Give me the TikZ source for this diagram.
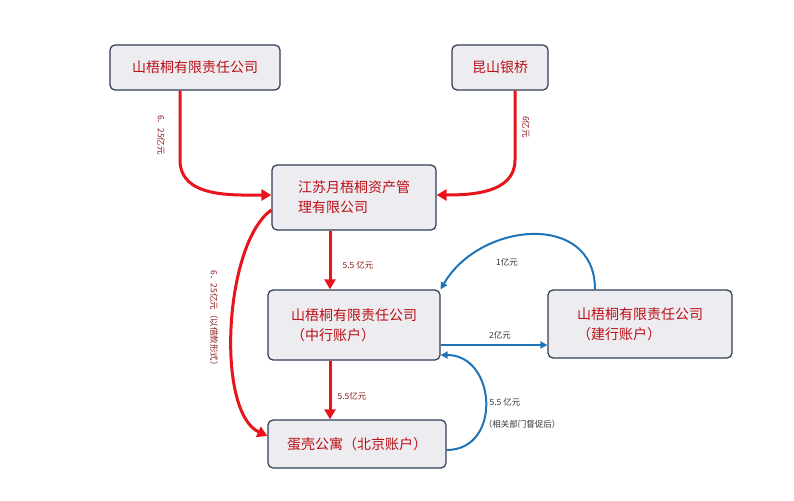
\documentclass[tikz,border=0pt]{standalone}
\usepackage{fontspec}
\setmainfont{Noto Sans CJK SC}
\usetikzlibrary{arrows.meta}
\definecolor{bx}{HTML}{EDEDF1}
\definecolor{bd}{HTML}{2F3B55}
\definecolor{rd}{HTML}{E8141C}
\definecolor{bl}{HTML}{1F74B8}
\definecolor{lt}{HTML}{8B1A1A}
\begin{document}
\begin{tikzpicture}[x=1pt,y=-1pt,
 box/.style={draw=bd,line width=1.2pt,fill=bx,rounded corners=5pt,font=\fontsize{14}{20}\selectfont,text=rd!80!black,align=left},
 ra/.style={draw=rd,line width=3pt,-{Triangle[length=10pt,width=11pt]}},
 ba/.style={draw=bl,line width=2pt,-{Triangle[length=7pt,width=7pt]}},
 lb/.style={font=\fontsize{8.5}{10}\selectfont,text=lt},
 lbb/.style={font=\fontsize{8.5}{10}\selectfont,text=black!80}]
\useasboundingbox (0,0) rectangle (794,500);
\node[box,minimum width=170pt,minimum height=45pt,align=center] (A) at (195,67.5) {山梧桐有限责任公司};
\node[box,minimum width=96pt,minimum height=45pt,align=center] (B) at (500,67.5) {昆山银桥};
\node[box,minimum width=164pt,minimum height=65pt] (C) at (354,197.5) {江苏月梧桐资产管\\理有限公司};
\node[box,minimum width=172pt,minimum height=70pt] (D) at (354,325) {山梧桐有限责任公司\\（中行账户）};
\node[box,minimum width=184pt,minimum height=68pt] (E) at (640,324) {山梧桐有限责任公司\\（建行账户）};
\node[box,minimum width=178pt,minimum height=48pt] (F) at (357,444) {蛋壳公寓（北京账户）};
\draw[ra] (A.south -| 180,0) -- (180,160) to[out=-90,in=180] (C.west |- 0,195);
\draw[ra] (B.south -| 515,0) -- (515,160) to[out=-90,in=0] (C.east |- 0,195);
\draw[ra] (C.south -| 330,0) -- (D.north -| 330,0);
\draw[ra] (D.south -| 330,0) -- (F.north -| 330,0);
\draw[ra] (C.west |- 0,210) to[out=215,in=155,looseness=0.65] (F.west |- 0,436);
\draw[ba] (D.east |- 0,345) -- (E.west |- 0,345);
\draw[ba] (E.north -| 595,0) to[out=90,in=60,looseness=1.3] (D.north east);
\draw[ba] (F.east |- 0,450) to[out=0,in=0,looseness=1.5] (D.east |- 0,355);
\node[lb,rotate=-90] (l1) at (161,135) {6．25亿元};
\node[lb,rotate=-90] (l2) at (526,127) {6亿元};
\node[lb] (l3) at (358,265) {5.5 亿元};
\node[lb] (l4) at (352,396) {5.5亿元};
\node[lb,rotate=-90] (l5) at (214,320) {6．25亿元（以借款形式）};
\node[lbb] (l6) at (500,335) {2亿元};
\node[lbb] (l7) at (507,262) {1亿元};
\node[lbb] (l8) at (505,402) {5.5 亿元};
\node[lbb] (l9) at (522,424) {（相关部门督促后）};
\end{tikzpicture}
\end{document}
